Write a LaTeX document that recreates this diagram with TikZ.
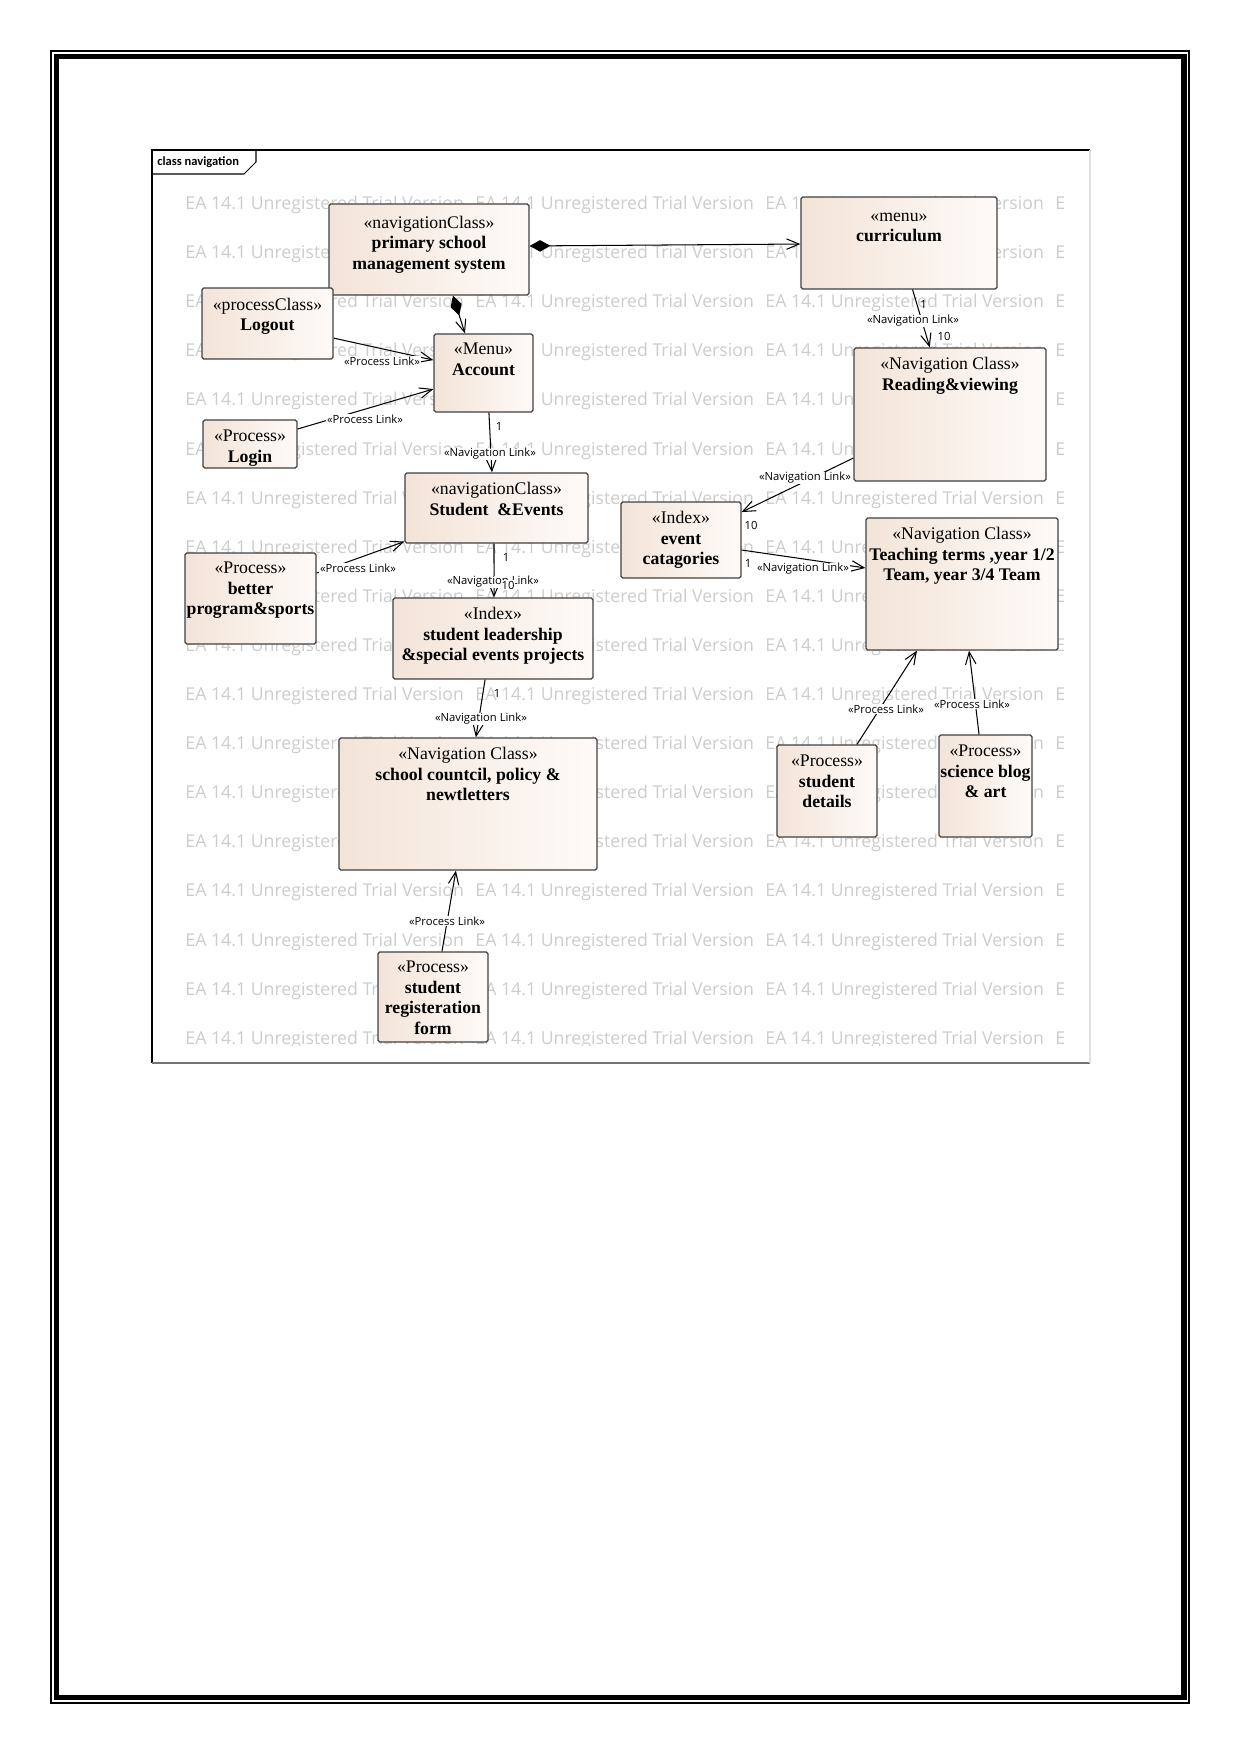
\documentclass[tikz,border=0pt]{standalone}
\usepackage{fontspec}
\setmainfont{Liberation Serif}
\newfontfamily\wmfont{Open Sans}
\newfontfamily\tabfont{Carlito}
\usetikzlibrary{arrows.meta,fit}
\definecolor{boxl}{RGB}{243,228,216}
\definecolor{boxr}{RGB}{254,250,248}

\begin{document}
\begin{tikzpicture}[x=0.4797pt, y=-0.4797pt,
	cls/.style={draw=black!75, line width=0.6pt, rounded corners=0.8pt, left color=boxl, right color=boxr, inner sep=0pt},
	ctext/.style={anchor=north, yshift=-4.6pt, align=center, inner sep=0pt, font=\fontsize{8.5}{9.8}\selectfont},
	link/.style={line width=0.5pt, -{Straight Barb[length=6pt,width=5pt]}},
	comp/.style={line width=0.5pt, {Diamond[length=10pt,width=5.5pt]}-{Straight Barb[length=6pt,width=5pt]}},
	lbl/.style={fill=white, inner sep=0.4pt, font=\wmfont\fontsize{5.4}{6}\selectfont},
	mult/.style={inner sep=0pt, font=\wmfont\fontsize{5.4}{6}\selectfont},
	wm/.style={anchor=base west, inner sep=0pt, text=black!20, font=\wmfont\fontsize{8.5}{10}\selectfont}]
	
	\useasboundingbox (0,0) rectangle (1241,1754);
	\draw[line width=0.7pt] (51,51) rectangle (1189,1703);
	\draw[line width=2.6pt] (56.5,56.5) rectangle (1184,1697.5);
	
	\begin{scope}
		\clip (152,174) rectangle (1089,1045);
		\foreach \r in {0,...,17}{
			\foreach \c in {0,...,2}
				\node[wm] (wm-\r-\c) at (185+290*\c, 209.5+49.1*\r) {EA 14.1 Unregistered Trial Version};
			\node[wm] (wm-\r-3) at (1055, 209.5+49.1*\r) {E};
		}
	\end{scope}
	
	\draw[line width=0.5pt] (152,1063) -- (152,150) -- (1090,150);
	\draw[black!55, line width=0.5pt] (152,1063) -- (1090,1063);
	\draw[black!12, line width=0.5pt] (1090,150) -- (1090,1063);
	\draw[line width=0.5pt] (256,150) -- (256,162) -- (244,174) -- (152,174);
	\node[anchor=west, inner sep=0pt, font=\tabfont\bfseries\fontsize{6}{7}\selectfont] (tab) at (157,162) {class navigation};
	
	\node[cls, fit={(329,204) (529,295)}] (psms) {};
	\node[ctext, yshift=-1.2pt] (psmst) at (psms.north) {«navigationClass»\\\textbf{primary school}\\\textbf{management system}};
	\node[cls, fit={(801,197) (997,289)}] (curr) {};
	\node[ctext, yshift=-3.2pt] (currt) at (curr.north) {«menu»\\\textbf{curriculum}};
	\node[cls, fit={(202,288) (333,359)}] (logout) {};
	\node[ctext, yshift=-0.4pt] (logoutt) at (logout.north) {«processClass»\\\textbf{Logout}};
	\node[cls, fit={(434,334) (533,412)}] (acct) {};
	\node[ctext] (acctt) at (acct.north) {«Menu»\\\textbf{Account}};
	\node[cls, fit={(203,420) (297,468)}] (login) {};
	\node[ctext, yshift=-0.4pt] (logint) at (login.north) {«Process»\\\textbf{Login}};
	\node[cls, fit={(405,473) (588,543)}] (stev) {};
	\node[ctext] (stevt) at (stev.north) {«navigationClass»\\\textbf{Student \ \&Events}};
	\node[cls, fit={(185,553) (316,644)}] (better) {};
	\node[ctext] (bettert) at (better.north) {«Process»\\\textbf{better}\\\textbf{program\&sports}};
	\node[cls, fit={(393,598) (593,679)}] (lead) {};
	\node[ctext] (leadt) at (lead.north) {«Index»\\\textbf{student leadership}\\\textbf{\&special events projects}};
	\node[cls, fit={(339,738) (597,870)}] (council) {};
	\node[ctext] (councilt) at (council.north) {«Navigation Class»\\\textbf{school countcil, policy \&}\\\textbf{newtletters}};
	\node[cls, fit={(378,952) (488,1042)}] (regform) {};
	\node[ctext] (regformt) at (regform.north) {«Process»\\\textbf{student}\\\textbf{registeration}\\\textbf{form}};
	\node[cls, fit={(854,348) (1046,481)}] (read) {};
	\node[ctext] (readt) at (read.north) {«Navigation Class»\\\textbf{Reading\&viewing}};
	\node[cls, fit={(621,502) (741,578)}] (evcat) {};
	\node[ctext] (evcatt) at (evcat.north) {«Index»\\\textbf{event}\\\textbf{catagories}};
	\node[cls, fit={(866,518) (1058,650)}] (teach) {};
	\node[ctext] (teacht) at (teach.north) {«Navigation Class»\\\textbf{Teaching terms ,year 1/2}\\\textbf{Team, year 3/4 Team}};
	\node[cls, fit={(777,745) (877,837)}] (stdet) {};
	\node[ctext, yshift=-0.4pt] (stdett) at (stdet.north) {«Process»\\\textbf{student}\\\textbf{details}};
	\node[cls, fit={(939,735) (1032,837)}] (sci) {};
	\node[ctext, yshift=-0.4pt] (scit) at (sci.north) {«Process»\\\textbf{science blog}\\\textbf{\& art}};
	
	\draw[comp] ([yshift=1.7pt]psms.east) -- ([yshift=-0.5pt]curr.west);
	\draw[comp] ([xshift=11.5pt]psms.south) -- ([xshift=-8.9pt]acct.north);
	\draw[link] ([yshift=-7pt]logout.east) -- ([yshift=6.2pt]acct.west);
	\draw[link] ([yshift=7.2pt]login.east) -- ([yshift=-7.7pt]acct.west);
	\draw[link] ([xshift=2.6pt]acct.south) -- ([xshift=-2.2pt]stev.north);
	\draw[link] ([yshift=12.2pt]better.east) -- ([yshift=1pt]stev.south west);
	\draw[link] ([xshift=-1.2pt]stev.south) -- ([xshift=0.5pt]lead.north);
	\draw[link] ([xshift=-3.8pt]lead.south) -- ([xshift=3.8pt]council.north);
	\draw[link] ([xshift=4.3pt]regform.north) -- ([xshift=-5.8pt]council.south);
	\draw[link] ([xshift=6.5pt]curr.south) -- ([xshift=-9.7pt]read.north);
	\draw[link] ([yshift=-20.9pt]read.west) -- ([yshift=13.4pt]evcat.east);
	\draw[link] ([yshift=-4.8pt]evcat.east) -- ([yshift=7.7pt]teach.west);
	\draw[link] ([xshift=14.4pt]stdet.north) -- ([xshift=-21.6pt]teach.south);
	\draw[link] ([xshift=-3.1pt]sci.north) -- ([xshift=3.4pt]teach.south);
	
	\node[lbl] (pl1) at (382,361) {«Process Link»};
	\node[lbl] (pl2) at (365,419) {«Process Link»};
	\node[lbl] (nl1) at (490,454) {«Navigation Link»};
	\node[mult] (m1) at (499,426) {1};
	\node[lbl] (pl3) at (358,568) {«Process Link»};
	\node[lbl] (nl2) at (493,582) {«Navigation Link»};
	\node[mult] (m2) at (506,557) {1};
	\node[mult, fill=white, inner sep=0.4pt] (m3) at (508,585) {10};
	\node[lbl] (nl3) at (481,719) {«Navigation Link»};
	\node[mult] (m4) at (497,693) {1};
	\node[lbl] (pl4) at (447,921) {«Process Link»};
	\node[lbl] (nl4) at (913,321) {«Navigation Link»};
	\node[mult] (m5) at (923.6,304) {1};
	\node[mult] (m6) at (944,336) {10};
	\node[lbl] (nl5) at (805,478) {«Navigation Link»};
	\node[mult] (m7) at (751,525) {10};
	\node[lbl] (nl6) at (803,569) {«Navigation Link»};
	\node[mult] (m8) at (748,563) {1};
	\node[lbl] (pl5) at (886,709) {«Process Link»};
	\node[lbl] (pl6) at (972,704) {«Process Link»};
\end{tikzpicture}
\end{document}
